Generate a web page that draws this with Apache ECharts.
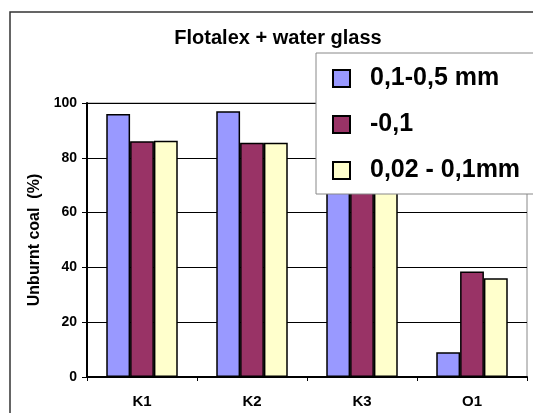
<!DOCTYPE html>
<html>
<head>
<meta charset="utf-8">
<script src="https://cdn.jsdelivr.net/npm/echarts@6/dist/echarts.min.js"></script>
<style>
  html, body { margin: 0; padding: 0; background: #fff; }
  #chart { width: 533px; height: 413px; }
</style>
</head>
<body>
<div id="chart"></div>
<script>
var categories = ['K1', 'K2', 'K3', 'O1']
var coarse = [96, 97, 93, 9]      // 0,1-0,5 mm
var minus01 = [86, 85.5, 88, 38.5] // -0,1
var fine = [86.2, 85.5, 87, 36]    // 0,02 - 0,1mm
var seriesNames = ['0,1-0,5 mm', '-0,1', '0,02 - 0,1mm']
var colors = ['#9999ff', '#993366', '#ffffcc']

var font = 'Liberation Sans, Arial, sans-serif'

var chart = echarts.init(document.getElementById('chart'))

var barStyle = function (c) {
  return { color: c, borderColor: '#000', borderWidth: 1.5 }
}

chart.setOption({
  animation: false,
  graphic: [{
    type: 'rect',
    shape: { x: 10, y: 12, width: 560, height: 440 },
    style: { fill: 'none', stroke: '#333', lineWidth: 1.5 },
    silent: true
  }],
  title: {
    text: 'Flotalex + water glass',
    left: 273,
    top: 23,
    textAlign: 'center',
    textStyle: { fontFamily: font, fontWeight: 'bold', fontSize: 20, color: '#000' }
  },
  legend: {
    orient: 'vertical',
    left: 316,
    top: 53,
    padding: [13, 60, 11, 16],
    itemGap: 21,
    itemWidth: 17,
    itemHeight: 17,
    backgroundColor: '#fff',
    borderColor: '#888',
    borderWidth: 1,
    icon: 'rect',
    data: seriesNames,
    textStyle: { fontFamily: font, fontWeight: 'bold', fontSize: 25, color: '#000', padding: [0, 0, 0, 15] }
  },
  grid: {
    left: 87,
    right: 6,
    top: 103,
    bottom: 36,
    show: true,
    borderColor: '#888',
    borderWidth: 1
  },
  xAxis: {
    type: 'category',
    data: categories,
    axisLine: { lineStyle: { color: '#000', width: 2 } },
    axisTick: { show: true, length: 4, lineStyle: { color: '#000' } },
    axisLabel: { margin: 17, fontFamily: font, fontWeight: 'bold', fontSize: 15, color: '#000' }
  },
  yAxis: {
    type: 'value',
    min: 0,
    max: 100,
    interval: 20,
    name: 'Unburnt coal  (%)',
    nameLocation: 'middle',
    nameGap: 42,
    nameTextStyle: { fontFamily: font, fontWeight: 'bold', fontSize: 16, color: '#000' },
    axisLine: { show: true, lineStyle: { color: '#000', width: 2 } },
    axisTick: { show: true, length: 5, lineStyle: { color: '#000' } },
    axisLabel: { margin: 10, fontFamily: font, fontWeight: 'bold', fontSize: 14, color: '#000' },
    splitLine: { show: true, lineStyle: { color: '#000', width: 1 } }
  },
  series: [{
    name: seriesNames[0],
    type: 'bar',
    data: coarse,
    barGap: '0%',
    barCategoryGap: '35%',
    itemStyle: barStyle(colors[0])
  }, {
    name: seriesNames[1],
    type: 'bar',
    data: minus01,
    itemStyle: barStyle(colors[1])
  }, {
    name: seriesNames[2],
    type: 'bar',
    data: fine,
    itemStyle: barStyle(colors[2])
  }]
})
</script>
</body>
</html>
